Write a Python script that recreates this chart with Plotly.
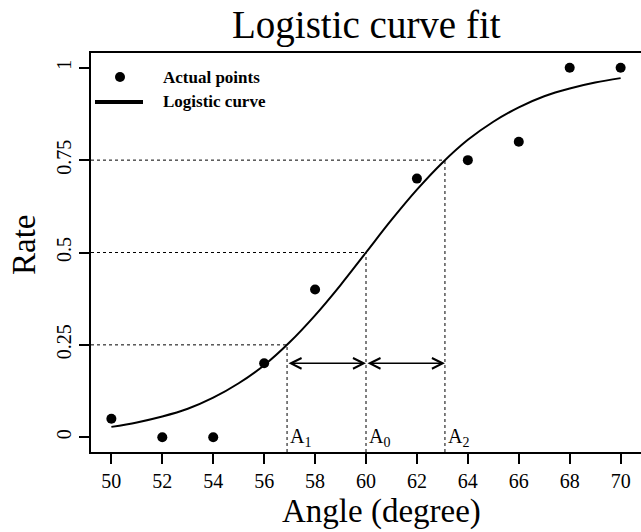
import plotly.graph_objects as go

# ---- data ----
angle_pts = [50, 52, 54, 56, 58, 62, 64, 66, 68, 70]
rate_pts = [0.05, 0.0, 0.0, 0.2, 0.4, 0.7, 0.75, 0.8, 1.0, 1.0]

curve_x = [50, 51, 52, 53, 54, 55, 56, 57, 58, 59, 60, 61, 62, 63, 64, 65, 66, 67, 68, 69, 70]
curve_y = [0.028, 0.040, 0.056, 0.077, 0.107, 0.146, 0.195, 0.257, 0.330, 0.412, 0.500,
           0.588, 0.670, 0.743, 0.805, 0.854, 0.893, 0.923, 0.944, 0.960, 0.972]

a_names = ["A<sub>1</sub>", "A<sub>0</sub>", "A<sub>2</sub>"]
a_vals = [56.9, 60.0, 63.1]
a_levels = [0.25, 0.5, 0.75]
arrow_level = 0.2

x_ticks = list(range(50, 71, 2))
y_ticks = [0, 0.25, 0.5, 0.75, 1]
y_ticktext = ["0", "0.25", "0.5", "0.75", "1"]

x_range = [49.2, 70.8]
y_range = [-0.04, 1.04]

FONT = "Liberation Serif"

fig = go.Figure()
fig.add_trace(go.Scatter(x=curve_x, y=curve_y, mode="lines", line=dict(color="black", width=2, shape="spline"),
                         showlegend=False, hoverinfo="skip"))
fig.add_trace(go.Scatter(x=angle_pts, y=rate_pts, mode="markers", marker=dict(color="black", size=10),
                         showlegend=False))

shapes = []
for a, lv in zip(a_vals, a_levels):
    shapes.append(dict(type="line", xref="x", yref="y", x0=x_range[0], x1=a, y0=lv, y1=lv,
                       line=dict(color="black", width=1, dash="dot")))
    shapes.append(dict(type="line", xref="x", yref="y", x0=a, x1=a, y0=y_range[0], y1=lv,
                       line=dict(color="black", width=1, dash="dot")))

# legend glyphs
shapes.append(dict(type="circle", xref="paper", yref="paper", xsizemode="pixel", ysizemode="pixel",
                   xanchor=(120 - 91) / 550, yanchor=(452 - 77) / 399, x0=-5, x1=5, y0=-5, y1=5,
                   fillcolor="black", line=dict(color="black", width=0)))
shapes.append(dict(type="line", xref="paper", yref="paper", x0=(95 - 91) / 550, x1=(143 - 91) / 550,
                   y0=(452 - 102) / 399, y1=(452 - 102) / 399, line=dict(color="black", width=4)))

annotations = []
# arrows
for start, end in [(a_vals[0], a_vals[1]), (a_vals[1], a_vals[2])]:
    annotations.append(dict(x=end, y=arrow_level, ax=start, ay=arrow_level, xref="x", yref="y",
                            axref="x", ayref="y", text="", showarrow=True, arrowside="end+start",
                            arrowhead=5, startarrowhead=5, arrowwidth=1.5, arrowsize=1.4,
                            startarrowsize=1.4, arrowcolor="black", standoff=0, startstandoff=0))
for nm, a in zip(a_names, a_vals):
    annotations.append(dict(x=a, y=0, xref="x", yref="y", text=nm, showarrow=False, xanchor="left",
                            yanchor="middle", xshift=1, font=dict(family=FONT, size=20, color="black")))

# legend text
annotations.append(dict(x=(161 - 91) / 550, y=(452 - 77) / 399, xref="paper", yref="paper",
                        text="<b>Actual points</b>", showarrow=False, xanchor="left", yanchor="middle",
                        font=dict(family=FONT, size=17, color="black")))
annotations.append(dict(x=(161 - 91) / 550, y=(452 - 101) / 399, xref="paper", yref="paper",
                        text="<b>Logistic curve</b>", showarrow=False, xanchor="left", yanchor="middle",
                        font=dict(family=FONT, size=17, color="black")))

# titles
annotations.append(dict(x=0.5, y=(452 - 24.5) / 399, xref="paper", yref="paper", text="Logistic curve fit",
                        showarrow=False, xanchor="center", yanchor="middle",
                        font=dict(family=FONT, size=39, color="black")))
annotations.append(dict(x=(381.5 - 91) / 550, y=(452 - 511.5) / 399, xref="paper", yref="paper",
                        text="Angle (degree)", showarrow=False, xanchor="center", yanchor="middle",
                        font=dict(family=FONT, size=33, color="black")))
annotations.append(dict(x=(24 - 91) / 550, y=(452 - 245) / 399, xref="paper", yref="paper",
                        text="Rate", showarrow=False, xanchor="center", yanchor="middle", textangle=-90,
                        font=dict(family=FONT, size=33, color="black")))

fig.update_layout(
    width=641, height=532,
    margin=dict(l=91, r=0, t=53, b=80),
    paper_bgcolor="white", plot_bgcolor="white",
    shapes=shapes, annotations=annotations,
    showlegend=False,
    xaxis=dict(range=x_range, tickvals=x_ticks, ticks="outside", ticklen=10, tickwidth=1.5,
               tickcolor="black", showline=True, mirror=True, linecolor="black", linewidth=2,
               showgrid=False, zeroline=False, tickfont=dict(family=FONT, size=20, color="black")),
    yaxis=dict(range=y_range, tickvals=y_ticks, ticktext=y_ticktext, tickangle=-90, ticks="outside",
               ticklen=10, tickwidth=1.5, tickcolor="black", showline=True, mirror=False,
               linecolor="black", linewidth=2, showgrid=False, zeroline=False,
               tickfont=dict(family=FONT, size=20, color="black")),
)

fig.write_html("out.html")
